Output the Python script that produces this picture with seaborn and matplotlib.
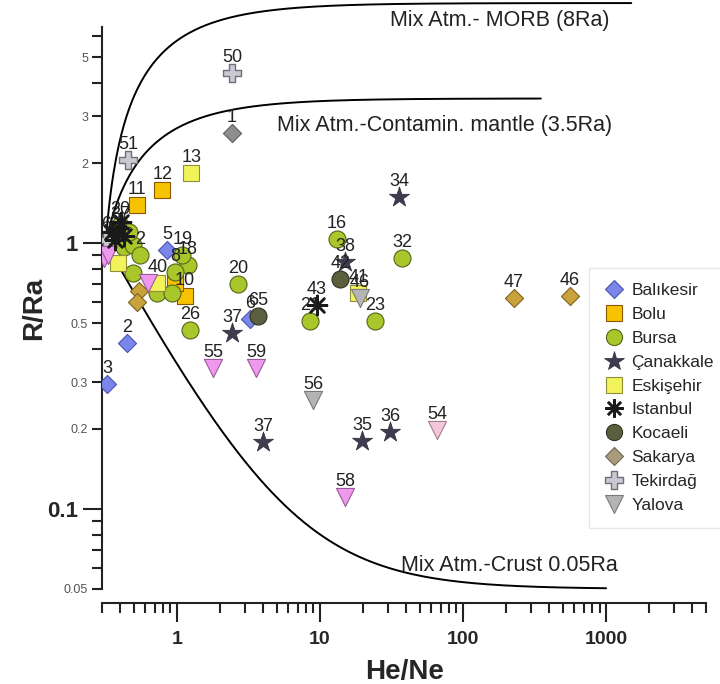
import numpy as np
import pandas as pd
import matplotlib
matplotlib.use("Agg")
import matplotlib.pyplot as plt
import seaborn as sns
from matplotlib.lines import Line2D
from matplotlib.ticker import FixedLocator, FuncFormatter, NullFormatter

# ---------------------------------------------------------------- data
balikesir_hene = [0.325, 0.449, 0.855, 3.25]
balikesir_rra = [0.295, 0.42, 0.94, 0.52]
balikesir_id = ["3", "2", "5", "6"]

bolu_hene = [0.53, 0.79, 1.14, 0.97]
bolu_rra = [1.39, 1.58, 0.63, 0.71]
bolu_id = ["11", "12", "10", ""]

bursa_hene = [13.2, 37.7, 24.3, 8.5, 2.68, 1.24, 1.19, 1.09, 0.97,
              0.73, 0.93, 0.49, 0.34, 0.43, 0.49, 0.40, 0.46, 0.55]
bursa_rra = [1.04, 0.88, 0.51, 0.51, 0.70, 0.47, 0.83, 0.90, 0.78,
             0.65, 0.65, 0.77, 1.04, 0.97, 0.98, 1.17, 1.10, 0.90]
bursa_id = ["16", "32", "23", "21", "20", "26", "18", "19", "8",
            "", "", "", "", "", "", "20", "", "2"]

canakkale_hene = [35.9, 15.0, 2.43, 4.0, 19.7, 31.0, 0.40]
canakkale_rra = [1.49, 0.85, 0.46, 0.179, 0.18, 0.195, 1.12]
canakkale_id = ["34", "38", "37", "37", "35", "36", "37"]

eskisehir_hene = [1.26, 18.5, 0.39, 0.73]
eskisehir_rra = [1.83, 0.65, 0.84, 0.71]
eskisehir_id = ["13", "41", "", "40"]

istanbul_hene = [9.55, 0.35, 0.39, 0.43, 0.37, 0.41]
istanbul_rra = [0.585, 1.10, 1.14, 1.06, 1.03, 1.20]
istanbul_id = ["43", "", "", "", "", ""]

kocaeli_hene = [13.9, 3.7]
kocaeli_rra = [0.73, 0.53]
kocaeli_id = ["42", "65"]

sakarya_hene = [227.0, 560.0, 0.54, 0.53]
sakarya_rra = [0.62, 0.63, 0.66, 0.60]
sakarya_id = ["47", "46", "", ""]
sakarya_grey_hene = [2.43]
sakarya_grey_rra = [2.59]
sakarya_grey_id = ["1"]

tekirdag_hene = [2.43, 0.456, 0.32]
tekirdag_rra = [4.36, 2.05, 1.03]
tekirdag_id = ["50", "51", "6"]

yalova_hene = [8.96, 19.0]
yalova_rra = [0.257, 0.62]
yalova_id = ["56", "46"]

# triangles shown in pink (not listed in the legend)
pink_hene = [1.79, 3.6, 15.0, 0.31, 0.33, 0.63]
pink_rra = [0.34, 0.34, 0.111, 0.88, 0.90, 0.71]
pink_id = ["55", "59", "58", "", "", ""]
pale_hene = [65.8]
pale_rra = [0.198]
pale_id = ["54"]

# end-members of the binary mixing curves
air_hene = 0.318
endmember_rra = [8.0, 3.5, 0.05]
endmember_max_hene = [1500.0, 350.0, 1000.0]
curve_text = ["Mix Atm.- MORB (8Ra)",
              "Mix Atm.-Contamin. mantle (3.5Ra)",
              "Mix Atm.-Crust 0.05Ra"]

provinces = ["Balıkesir", "Bolu", "Bursa", "Çanakkale", "Eskişehir",
             "Istanbul", "Kocaeli", "Sakarya", "Tekirdağ", "Yalova"]

# ---------------------------------------------------------------- styles
ASTER = (8, 2, 0)
styles = {
    "Balıkesir": dict(marker="D", fc="#7b86ea", ec="#4b55b0", s=85, lw=0.8),
    "Bolu": dict(marker="s", fc="#f7c300", ec="#8a5a00", s=130, lw=0.8),
    "Bursa": dict(marker="o", fc="#a9c62a", ec="#55651a", s=150, lw=0.8),
    "Çanakkale": dict(marker="*", fc="#3d3d4f", ec="#2a2a38", s=230, lw=0.5),
    "Eskişehir": dict(marker="s", fc="#f2f25a", ec="#8f8f3a", s=130, lw=0.8),
    "Istanbul": dict(marker=ASTER, fc="k", ec="k", s=190, lw=1.8),
    "Kocaeli": dict(marker="o", fc="#5b5f3e", ec="#2f3320", s=150, lw=0.8),
    "Sakarya": dict(marker="D", fc="#c9a23c", ec="#7f6420", s=85, lw=0.8),
    "Tekirdağ": dict(marker="P", fc="#c9c9d2", ec="#6e6e7c", s=170, lw=1.0),
    "Yalova": dict(marker="v", fc="#b4b4b4", ec="#7a7a7a", s=170, lw=0.8),
}
legend_style = dict(styles)
legend_style["Sakarya"] = dict(marker="D", fc="#a89c7c", ec="#6f6650", s=85, lw=0.8)

groups = [
    ("Balıkesir", balikesir_hene, balikesir_rra, balikesir_id, styles["Balıkesir"]),
    ("Bolu", bolu_hene, bolu_rra, bolu_id, styles["Bolu"]),
    ("Bursa", bursa_hene, bursa_rra, bursa_id, styles["Bursa"]),
    ("Eskişehir", eskisehir_hene, eskisehir_rra, eskisehir_id, styles["Eskişehir"]),
    ("Kocaeli", kocaeli_hene, kocaeli_rra, kocaeli_id, styles["Kocaeli"]),
    ("Sakarya", sakarya_hene, sakarya_rra, sakarya_id, styles["Sakarya"]),
    ("Sakarya", sakarya_grey_hene, sakarya_grey_rra, sakarya_grey_id,
     dict(marker="D", fc="#8e8e8e", ec="#5e5e5e", s=85, lw=0.8)),
    ("Tekirdağ", tekirdag_hene, tekirdag_rra, tekirdag_id, styles["Tekirdağ"]),
    ("Yalova", yalova_hene, yalova_rra, yalova_id, styles["Yalova"]),
    ("pink", pink_hene, pink_rra, pink_id,
     dict(marker="v", fc="#ee98ee", ec="#9a5a9a", s=170, lw=0.8)),
    ("pale", pale_hene, pale_rra, pale_id,
     dict(marker="v", fc="#f4c6da", ec="#a08090", s=170, lw=0.8)),
    ("Çanakkale", canakkale_hene, canakkale_rra, canakkale_id, styles["Çanakkale"]),
    ("Istanbul", istanbul_hene, istanbul_rra, istanbul_id, styles["Istanbul"]),
]

# ---------------------------------------------------------------- figure
sns.set_theme(style="ticks")
plt.rcParams["font.family"] = ["Liberation Sans", "DejaVu Sans"]

fig = plt.figure(figsize=(7.2, 6.84), dpi=100)
ax = fig.add_axes([0.1417, 0.139, 0.839, 0.8215])
ax.set_xscale("log")
ax.set_yscale("log")
ax.set_xlim(0.3, 5000)
ax.set_ylim(0.05, 6.5)

# mixing curves between air and each end-member
for rra_end, xmax in zip(endmember_rra, endmember_max_hene):
    x = np.geomspace(air_hene, xmax, 400)
    y = (air_hene / x) * 1.0 + (1 - air_hene / x) * rra_end
    sns.lineplot(x=x, y=y, ax=ax, color="black", lw=1.4, sort=False,
                 estimator=None, zorder=2, clip_on=False)

ax.text(31, 6.9, curve_text[0], fontsize=15.5, color="#222222", va="center",
        ha="left", clip_on=False)
ax.text(5.0, 2.78, curve_text[1], fontsize=15.5, color="#222222", va="center",
        ha="left")
ax.text(37, 0.0615, curve_text[2], fontsize=15.5, color="#222222", va="center",
        ha="left")

# samples
for name, hx, hy, ids, st in groups:
    df = pd.DataFrame({"HeNe": hx, "RRa": hy})
    sns.scatterplot(data=df, x="HeNe", y="RRa", ax=ax, marker=st["marker"],
                    color=st["fc"], edgecolor=st["ec"], s=st["s"],
                    linewidth=st["lw"], zorder=3, legend=False)
    for xv, yv, lab in zip(hx, hy, ids):
        if lab:
            ax.annotate(lab, (xv, yv), xytext=(0, 5), textcoords="offset points",
                        ha="center", va="bottom", fontsize=13,
                        color="#222222", zorder=4)

# legend
handles = []
for p in provinces:
    st = legend_style[p]
    handles.append(Line2D([], [], ls="none", marker=st["marker"],
                          markerfacecolor=st["fc"], markeredgecolor=st["ec"],
                          markeredgewidth=st["lw"],
                          markersize=np.sqrt(st["s"]) * 0.95,
                          color=st["ec"]))
leg = ax.legend(handles, provinces, loc="upper left",
                bbox_to_anchor=(0.806, 0.572), fontsize=12.5, frameon=True,
                handletextpad=0.45, labelspacing=0.5, borderpad=0.9,
                handlelength=1.1, borderaxespad=0, fancybox=False)
leg.get_frame().set_edgecolor("#e2e2e2")
leg.get_frame().set_linewidth(1.0)

# axes, ticks
for side in ("top", "right"):
    ax.spines[side].set_visible(False)
for side in ("left", "bottom"):
    ax.spines[side].set_color("#222222")
    ax.spines[side].set_linewidth(1.5)
ax.spines["bottom"].set_position(("outward", 10))

ax.yaxis.set_major_locator(FixedLocator([0.1, 1]))
ax.yaxis.set_major_formatter(FuncFormatter(lambda v, p: "1" if v == 1 else "0.1"))
ymin = [m * d for d in (0.01, 0.1, 1) for m in range(2, 10)]
ymin = [v for v in ymin if 0.05 <= v <= 6.5]
ax.yaxis.set_minor_locator(FixedLocator(ymin))
ylab_minor = {0.05: "0.05", 0.2: "0.2", 0.3: "0.3", 0.5: "0.5", 2: "2", 3: "3", 5: "5"}


def minor_fmt(v, p):
    for k, s in ylab_minor.items():
        if abs(v - k) < 1e-6 * max(1, k):
            return s
    return ""


ax.yaxis.set_minor_formatter(FuncFormatter(minor_fmt))

ax.xaxis.set_major_locator(FixedLocator([1, 10, 100, 1000]))
ax.xaxis.set_major_formatter(FuncFormatter(lambda v, p: f"{int(round(v))}"))
xmin = [m * d for d in (0.1, 1, 10, 100, 1000) for m in range(2, 10)]
xmin = [v for v in xmin if 0.3 <= v <= 5000]
ax.xaxis.set_minor_locator(FixedLocator(xmin))
ax.xaxis.set_minor_formatter(NullFormatter())

ax.tick_params(axis="both", which="major", direction="out", length=14,
               width=1.5, color="#222222", bottom=True, left=True)
ax.tick_params(axis="both", which="minor", direction="out", length=7,
               width=1.5, color="#222222", bottom=True, left=True)
ax.tick_params(axis="y", which="minor", labelsize=9, labelcolor="#555555", pad=3)
ax.tick_params(axis="y", which="major", labelsize=16, pad=3)
ax.tick_params(axis="x", which="major", labelsize=14, pad=6)
for t in ax.get_yticklabels() + ax.get_xticklabels():
    t.set_fontweight("bold")

ax.set_xlabel("He/Ne", fontsize=20, fontweight="bold", labelpad=8)
ax.set_ylabel("R/Ra", fontsize=20, fontweight="bold", labelpad=0)

fig.savefig("out.png", dpi=100)
